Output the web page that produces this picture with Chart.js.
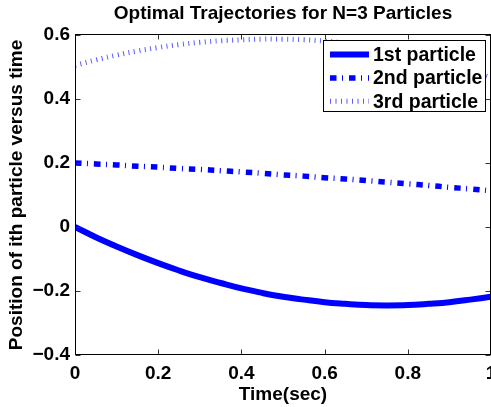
<!DOCTYPE html>
<html>
<head>
<meta charset="utf-8">
<script src="https://cdn.jsdelivr.net/npm/chart.js@4.4.0/dist/chart.umd.min.js"></script>
<style>
  html, body { margin: 0; padding: 0; background: #fff; overflow: hidden; }
  #wrap { width: 491px; height: 407px; }
</style>
</head>
<body>
<div id="wrap"><canvas id="trajCanvas" width="491" height="407"></canvas></div>
<script>
// values
const timeValues = [0, 0.05, 0.1, 0.15, 0.2, 0.25, 0.3, 0.35, 0.4, 0.45, 0.5,
                    0.55, 0.6, 0.65, 0.7, 0.75, 0.8, 0.85, 0.9, 0.95, 1];
const firstParticle = [0, -0.032, -0.061, -0.088, -0.113, -0.136, -0.157, -0.175, -0.192, -0.206, -0.218,
                       -0.227, -0.235, -0.240, -0.244, -0.245, -0.244, -0.240, -0.235, -0.227, -0.218];
const secondParticle = [0.200, 0.197, 0.194, 0.190, 0.187, 0.183, 0.180, 0.176, 0.172, 0.168, 0.163,
                        0.159, 0.154, 0.150, 0.145, 0.140, 0.135, 0.130, 0.124, 0.119, 0.113];
const thirdParticle = [0.505, 0.522, 0.537, 0.550, 0.561, 0.570, 0.577, 0.582, 0.585, 0.587, 0.587,
                       0.585, 0.581, 0.575, 0.567, 0.557, 0.545, 0.530, 0.512, 0.490, 0.466];
const seriesNames = ['1st particle', '2nd particle', '3rd particle'];
const xTickLabels = ['0', '0.2', '0.4', '0.6', '0.8', '1'];
const yTickLabels = ['\u22120.4', '\u22120.2', '0', '0.2', '0.4', '0.6'];

Chart.defaults.font.family = '"Liberation Sans", Arial, Helvetica, sans-serif';
Chart.defaults.color = '#000';

function toPoints(ys) {
    return ys.map((v, i) => ({ x: timeValues[i], y: v }));
}

// box round the axes with inward ticks, like the original figure
const frameTicks = {
    id: 'frameTicks',
    afterDatasetsDraw(chart) {
        const { ctx, chartArea: a, scales: { x, y } } = chart;
        const L = a.left + 0.5, R = a.right - 0.5, T = a.top - 0.5, B = a.bottom - 0.5;
        ctx.save();
        ctx.lineWidth = 1;
        ctx.strokeStyle = '#333';
        ctx.beginPath();
        x.ticks.forEach(t => {
            const px = Math.round(x.getPixelForValue(t.value)) + 0.5;
            ctx.moveTo(px, B); ctx.lineTo(px, B - 5);
            ctx.moveTo(px, T); ctx.lineTo(px, T + 5);
        });
        y.ticks.forEach(t => {
            const py = Math.round(y.getPixelForValue(t.value)) + 0.5;
            ctx.moveTo(L, py); ctx.lineTo(L + 5, py);
            ctx.moveTo(R, py); ctx.lineTo(R - 5, py);
        });
        ctx.stroke();
        ctx.strokeStyle = '#000';
        ctx.strokeRect(L, T, R - L, B - T);
        ctx.restore();
    }
};

// legend box inside the top right corner of the axes
const innerLegend = {
    id: 'innerLegend',
    afterDraw(chart) {
        const { ctx, chartArea: a } = chart;
        const w = 162, h = 71;
        const bx = a.right - 6 - w, by = a.top + 5;
        ctx.save();
        ctx.fillStyle = '#fff';
        ctx.fillRect(bx, by, w, h);
        ctx.lineWidth = 1;
        ctx.strokeStyle = '#000';
        ctx.strokeRect(bx + 0.5, by + 0.5, w, h);
        ctx.font = 'bold 19.5px "Liberation Sans", Arial, sans-serif';
        ctx.textBaseline = 'middle';
        ctx.fillStyle = '#000';
        chart.data.datasets.forEach((ds, i) => {
            const ry = by + 14.5 + i * 23.4;
            ctx.save();
            ctx.strokeStyle = ds.borderColor;
            ctx.lineWidth = ds.borderWidth;
            ctx.lineCap = 'butt';
            ctx.setLineDash(ds.borderDash || []);
            ctx.beginPath();
            ctx.moveTo(bx + 7, ry);
            ctx.lineTo(bx + 46, ry);
            ctx.stroke();
            ctx.restore();
            ctx.fillText(ds.label, bx + 50, ry + 1);
        });
        ctx.restore();
    }
};

new Chart(document.getElementById('trajCanvas'), {
    type: 'line',
    data: {
        datasets: [
            {
                label: seriesNames[0],
                data: toPoints(firstParticle),
                borderColor: '#0000ff',
                borderWidth: 6,
                borderDash: [],
                pointRadius: 0,
                tension: 0.4
            },
            {
                label: seriesNames[1],
                data: toPoints(secondParticle),
                borderColor: '#0000ff',
                borderWidth: 5.5,
                borderDash: [6.5, 5.5, 1, 6],
                pointRadius: 0,
                tension: 0.4
            },
            {
                label: seriesNames[2],
                data: toPoints(thirdParticle),
                borderColor: '#5a5aff',
                borderWidth: 5,
                borderDash: [1, 4.5],
                pointRadius: 0,
                tension: 0.4
            }
        ]
    },
    options: {
        responsive: false,
        animation: false,
        layout: { padding: 0 },
        plugins: {
            legend: { display: false },
            tooltip: { enabled: false },
            title: {
                display: true,
                text: 'Optimal Trajectories for N=3 Particles',
                fullSize: false,
                font: { size: 19, weight: 'bold' },
                padding: { top: 2, bottom: 10.2 }
            }
        },
        scales: {
            x: {
                type: 'linear',
                min: 0,
                max: 1,
                grid: { display: false, drawTicks: false },
                border: { display: false },
                ticks: {
                    stepSize: 0.2,
                    padding: 7,
                    maxRotation: 0,
                    autoSkip: false,
                    font: { size: 19, weight: 'bold' },
                    callback: (value, index) => xTickLabels[index]
                },
                title: {
                    display: true,
                    text: 'Time(sec)',
                    font: { size: 19, weight: 'bold' },
                    padding: { top: 0, bottom: 1 }
                },
                afterFit(scale) {
                    scale.height = 52;
                    scale.paddingLeft = 0;
                    scale.paddingRight = 0;
                }
            },
            y: {
                min: -0.4,
                max: 0.6,
                grid: { display: false, drawTicks: false },
                border: { display: false },
                ticks: {
                    stepSize: 0.2,
                    padding: 5,
                    font: { size: 19, weight: 'bold' },
                    callback: (value, index) => yTickLabels[index]
                },
                title: {
                    display: true,
                    text: 'Position of ith particle versus time',
                    font: { size: 19, weight: 'bold' },
                    padding: { top: 5.6, bottom: 0 }
                },
                afterFit(scale) {
                    scale.width = 75;
                    scale.paddingTop = 0;
                    scale.paddingBottom = 0;
                }
            }
        }
    },
    plugins: [frameTicks, innerLegend]
});
</script>
</body>
</html>
